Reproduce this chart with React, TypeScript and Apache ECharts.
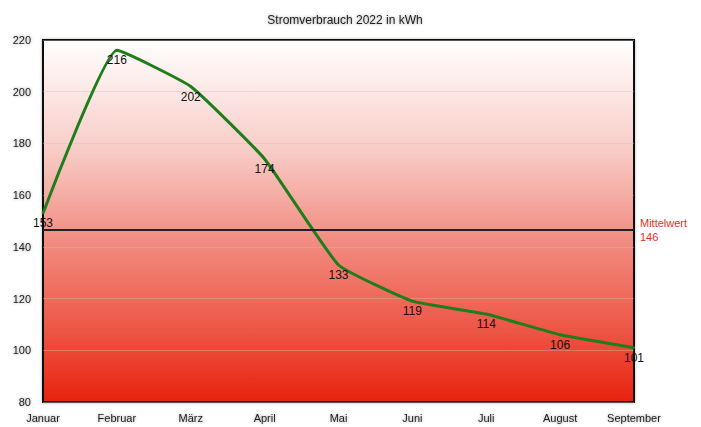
import React, { useEffect, useRef } from "react";
import * as echarts from "echarts";

const months = ["Januar", "Februar", "März", "April", "Mai", "Juni", "Juli", "August", "September"];
const consumption = [153, 216, 202, 174, 133, 119, 114, 106, 101];
const yTicks = { min: 80, max: 220, interval: 20 };
const titleText = "Stromverbrauch 2022 in kWh";
const meanLabel = "Mittelwert";

export default function App() {
  const ref = useRef<HTMLDivElement>(null);
  useEffect(() => {
    if (!ref.current) return;
    const chart = echarts.init(ref.current, undefined, { renderer: "svg" });
    const shadowText = {
      textShadowColor: "rgba(0,0,0,0.4)",
      textShadowBlur: 3,
    };
    chart.setOption({
      animation: false,
      backgroundColor: "#ffffff",
      textStyle: { fontFamily: "Liberation Sans, Arial, sans-serif" },
      title: {
        text: titleText,
        left: 340,
        textAlign: "center",
        top: 9,
        textStyle: { fontSize: 12, fontWeight: "normal", color: "#222", ...shadowText },
      },
      grid: {
        left: 43,
        right: 67,
        top: 40,
        bottom: 25,
        show: true,
        borderColor: "#111",
        borderWidth: 2,
        shadowColor: "rgba(0,0,0,0.3)",
        shadowBlur: 3,
        backgroundColor: new echarts.graphic.LinearGradient(0, 0, 0, 1, [
          { offset: 0, color: "#ffffff" },
          { offset: 0.3, color: "#f8cdc8" },
          { offset: 0.55, color: "#f28d82" },
          { offset: 0.8, color: "#ed5646" },
          { offset: 1, color: "#e8220e" },
        ]),
      },
      xAxis: {
        type: "category",
        data: months,
        boundaryGap: false,
        axisLine: { show: false },
        axisTick: { show: false },
        axisLabel: { color: "#222", fontSize: 11, margin: 10, ...shadowText },
        splitLine: { show: false },
      },
      yAxis: {
        type: "value",
        min: yTicks.min,
        max: yTicks.max,
        interval: yTicks.interval,
        axisLine: { show: false },
        axisTick: { show: false },
        axisLabel: { color: "#222", fontSize: 11, margin: 12, ...shadowText },
        splitLine: { show: true, lineStyle: { color: "rgba(215,185,185,0.4)", width: 1 } },
      },
      series: [
        {
          type: "line",
          data: consumption,
          smooth: 0.12,
          symbol: "circle",
          symbolSize: 2,
          itemStyle: { color: "#1f7d1a" },
          lineStyle: { color: "#1f7d1a", width: 3 },
          label: {
            show: true,
            position: "bottom",
            distance: 3,
            color: "#111",
            fontSize: 12,
          },
          markLine: {
            silent: true,
            symbol: "none",
            lineStyle: { color: "#222", width: 2, type: "solid" },
            label: {
              position: "end",
              distance: 6,
              color: "#e8301e",
              fontSize: 11,
              lineHeight: 14,
              align: "left",
              formatter: (p: any) => meanLabel + "\n" + Math.round(p.value),
            },
            data: [{ type: "average" }],
          },
        },
      ],
    });
    return () => chart.dispose();
  }, []);
  return <div ref={ref} style={{ position: "absolute", left: 0, top: 0, width: 701, height: 427 }} />;
}
